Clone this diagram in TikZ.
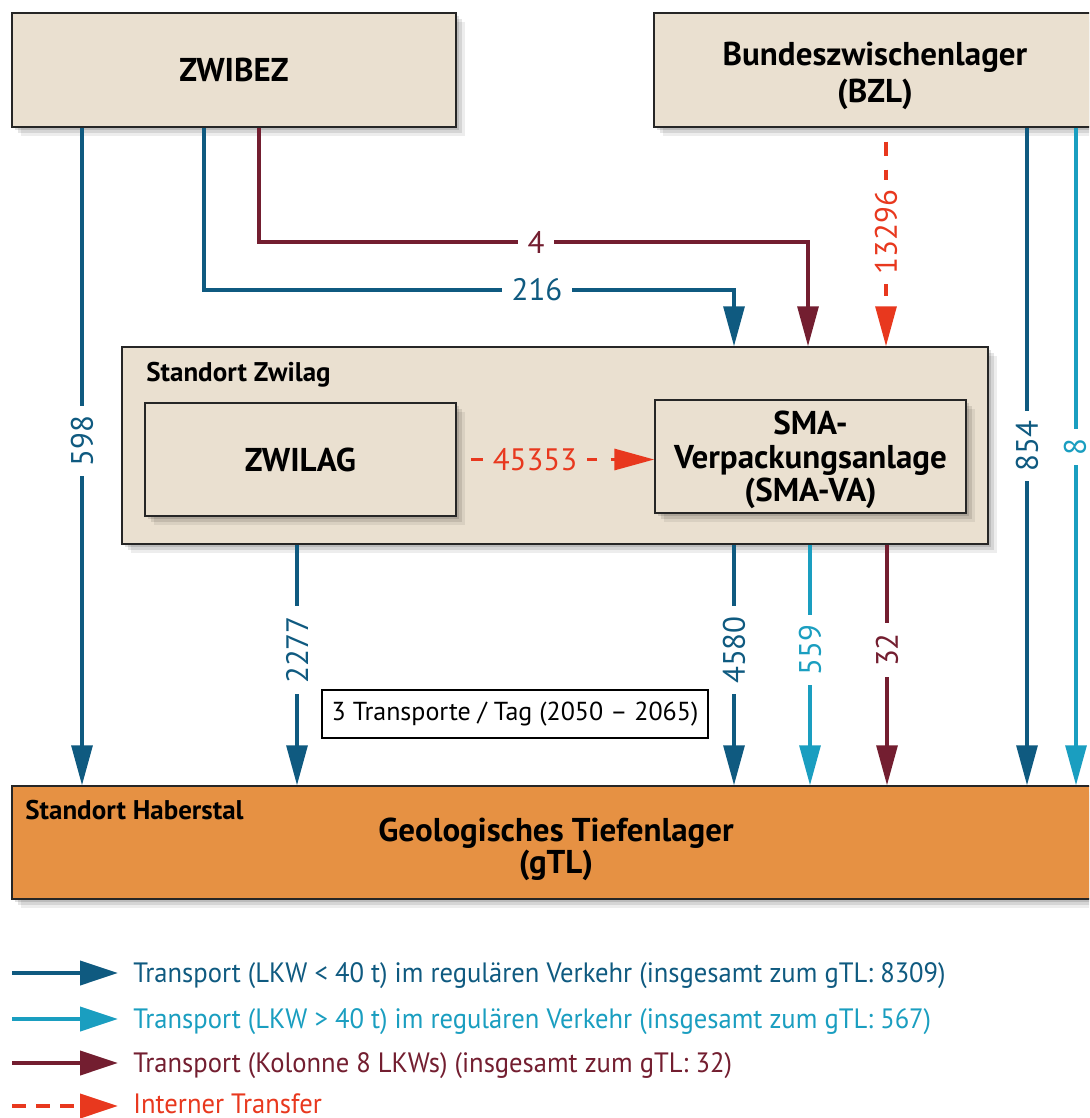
\documentclass[tikz,border=0pt]{standalone}
\usepackage{fontspec}
\setmainfont{PT Sans}
\usetikzlibrary{arrows.meta,shadows}
\definecolor{dblue}{RGB}{15,90,128}
\definecolor{lblue}{RGB}{26,158,192}
\definecolor{dred}{RGB}{115,30,48}
\definecolor{ired}{RGB}{232,56,30}
\definecolor{beige}{RGB}{234,224,208}
\definecolor{gorange}{RGB}{230,145,67}
\begin{document}
\begin{tikzpicture}[x=0.5pt,y=-0.5pt,
  soft/.style={drop shadow={shadow xshift=1.5pt,shadow yshift=-1.5pt,opacity=.12,fill=black},
               drop shadow={shadow xshift=3pt,shadow yshift=-3pt,opacity=.10,fill=black},
               drop shadow={shadow xshift=4.5pt,shadow yshift=-4.5pt,opacity=.07,fill=black}},
  box/.style={soft,draw=black!85,line width=0.75pt,fill=beige,inner sep=0pt,align=center,
              font=\fontsize{16.5}{18.5}\selectfont\bfseries},
  boxtext/.style={inner sep=0pt,align=center},
  smallhead/.style={font=\fontsize{13.5}{15}\selectfont\bfseries,inner sep=0pt},
  con/.style={line width=1.6pt,-{Triangle[length=20pt,width=10.5pt]}},
  cdb/.style={con,draw=dblue},
  clb/.style={con,draw=lblue},
  cdr/.style={con,draw=dred},
  cir/.style={con,draw=ired,dash pattern=on 7pt off 7pt,dash phase=7pt},
  lab/.style={font=\fontsize{15.5}{17}\selectfont,fill=white,inner xsep=5pt,inner ysep=1pt},
  vlab/.style={lab,rotate=90,inner ysep=0.3pt},
  leg/.style={line width=2pt,-{Triangle[length=19pt,width=12pt]}},
  legtext/.style={anchor=base west,inner sep=0pt,font=\fontsize{14}{16}\selectfont}
]
\useasboundingbox (0,0) rectangle (1089,1118);
\clip (0,0) rectangle (1089,1118);

% boxes
\node[box,minimum width=222pt,minimum height=57pt] (zwibez) at (234,70) {ZWIBEZ};
\node[box,minimum width=223pt,minimum height=57pt] (bzl) at (877,70) {};
\node[boxtext,font=\fontsize{16.5}{18.5}\selectfont\bfseries] (bzlt) at (875,76) {Bundeszwischenlager\\(BZL)};
\node[box,minimum width=433pt,minimum height=98.5pt] (zwilag) at (555,445.5) {};
\node[smallhead,anchor=west] (szw) at (146,375) {Standort Zwilag};
\node[box,minimum width=155.5pt,minimum height=56.5pt] (zwl) at (300.5,459.5) {ZWILAG};
\node[box,minimum width=155.5pt,minimum height=56.5pt] (sma) at (810.5,456.5) {};
\node[boxtext,font=\fontsize{16.5}{16.75}\selectfont\bfseries] (smat) at (810.5,460) {SMA-\\Verpackungsanlage\\(SMA-VA)};
\node[box,fill=gorange,minimum width=544pt,minimum height=56.5pt] (gtl) at (556,842.5) {};
\node[boxtext,font=\fontsize{16.5}{16}\selectfont\bfseries] (gtlt) at (556,849) {Geologisches Tiefenlager\\(gTL)};
\node[smallhead,anchor=west] (sha) at (25,810) {Standort Haberstal};
\node[draw=black,line width=0.6pt,fill=white,minimum width=193pt,minimum height=24pt,inner sep=0pt,
      font=\fontsize{13}{15}\selectfont] (note) at (515,714) {3 Transporte / Tag (2050 – 2065)};

% x positions
\coordinate (xa) at (82,0);
\coordinate (xb) at (204,0);
\coordinate (xc) at (259,0);
\coordinate (xd) at (297,0);
\coordinate (xe) at (734,0);
\coordinate (xf) at (810,0);
\coordinate (xg) at (887,0);
\coordinate (xh) at (1027,0);
\coordinate (xi) at (1076,0);
\coordinate (k216) at (734,290);
\coordinate (k4) at (808,242);
\coordinate (k13) at (886,0);

% from ZWIBEZ
\draw[cdb] (zwibez.south -| xa) -- (gtl.north -| xa);
\node[vlab,text=dblue] (l598) at (82,441) {598};
\draw[cdb] (zwibez.south -| xb) |- (k216) -- (zwilag.north -| k216);
\node[lab,text=dblue] (l216) at (537,290) {216};
\draw[cdr] (zwibez.south -| xc) |- (k4) -- (zwilag.north -| k4);
\node[lab,text=dred] (l4) at (536,242) {4};

% from BZL
\draw[cir] (bzl.south -| k13) -- (zwilag.north -| k13);
\node[vlab,text=ired] (l13296) at (886,232) {13296};
\draw[cdb] (bzl.south -| xh) -- (gtl.north -| xh);
\node[vlab,text=dblue] (l854) at (1027,446) {854};
\draw[clb] (bzl.south -| xi) -- (gtl.north -| xi);
\node[vlab,text=lblue] (l8) at (1075,447) {8};

% internal transfer
\draw[cir] (zwl.east) -- (sma.west |- zwl.east);
\node[lab,fill=beige,text=ired] (l45353) at (535,460) {45353};

% from Zwilag site
\draw[cdb] (zwilag.south -| xd) -- (gtl.north -| xd);
\node[vlab,text=dblue] (l2277) at (297,650) {2277};
\draw[cdb] (zwilag.south -| xe) -- (gtl.north -| xe);
\node[vlab,text=dblue] (l4580) at (734,650) {4580};
\draw[clb] (zwilag.south -| xf) -- (gtl.north -| xf);
\node[vlab,text=lblue] (l559) at (810,650) {559};
\draw[cdr] (zwilag.south -| xg) -- (gtl.north -| xg);
\node[vlab,text=dred] (l32) at (887,650) {32};

% legend
\coordinate (g1a) at (12,973);  \coordinate (g1b) at (118,973);
\coordinate (g2a) at (12,1019); \coordinate (g2b) at (118,1019);
\coordinate (g3a) at (12,1063); \coordinate (g3b) at (118,1063);
\coordinate (g4a) at (12,1106); \coordinate (g4b) at (118,1106);
\draw[leg,draw=dblue] (g1a) -- (g1b);
\draw[leg,draw=lblue] (g2a) -- (g2b);
\draw[leg,draw=dred] (g3a) -- (g3b);
\draw[leg,draw=ired,dash pattern=on 7pt off 5pt] (g4a) -- (g4b);
\node[legtext,text=dblue] (t1) at (133,982) {\scalebox{0.95}[1]{Transport (LKW < 40 t) im regulären Verkehr (insgesamt zum gTL: 8309)}};
\node[legtext,text=lblue] (t2) at (133,1028) {\scalebox{0.95}[1]{Transport (LKW > 40 t) im regulären Verkehr (insgesamt zum gTL: 567)}};
\node[legtext,text=dred] (t3) at (133,1072) {\scalebox{0.95}[1]{Transport (Kolonne 8 LKWs) (insgesamt zum gTL: 32)}};
\node[legtext,text=ired] (t4) at (133,1113) {\scalebox{0.95}[1]{Interner Transfer}};
\end{tikzpicture}
\end{document}
